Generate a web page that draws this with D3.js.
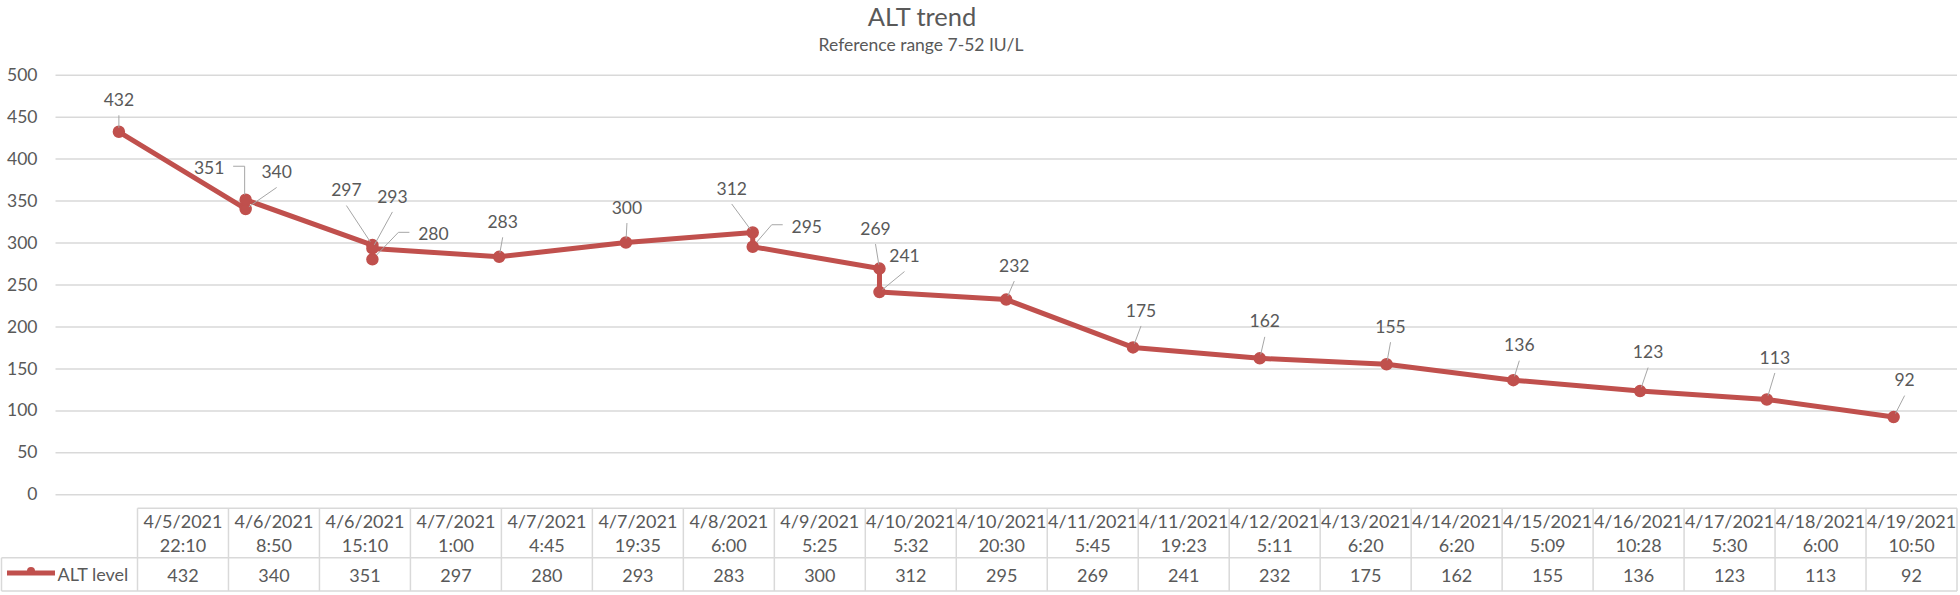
<!DOCTYPE html>
<html>
<head>
<meta charset="utf-8">
<script src="https://cdn.jsdelivr.net/npm/d3@7"></script>
<style>
  html, body { margin: 0; padding: 0; background: #fff; }
  svg { display: block; }
  text { font-family: Lato, "Open Sans", sans-serif; fill: #595959; }
</style>
</head>
<body>
<svg id="chart" width="1960" height="595"></svg>
<script>
// ---------------- data ----------------
const chartTitle = "ALT trend";
const chartSubtitle = "Reference range 7-52 IU/L";
const seriesName = "ALT level";
const categories = [
  "4/5/2021 22:10", "4/6/2021 8:50", "4/6/2021 15:10", "4/7/2021 1:00", "4/7/2021 4:45",
  "4/7/2021 19:35", "4/8/2021 6:00", "4/9/2021 5:25", "4/10/2021 5:32", "4/10/2021 20:30",
  "4/11/2021 5:45", "4/11/2021 19:23", "4/12/2021 5:11", "4/13/2021 6:20", "4/14/2021 6:20",
  "4/15/2021 5:09", "4/16/2021 10:28", "4/17/2021 5:30", "4/18/2021 6:00", "4/19/2021 10:50"
];
const altValues = [432, 340, 351, 297, 280, 293, 283, 300, 312, 295, 269, 241, 232, 175, 162, 155, 136, 123, 113, 92];
const yTicks = [0, 50, 100, 150, 200, 250, 300, 350, 400, 450, 500];

// ---------------- layout (label placement relative to each point) ----------------
const labelOffsets = [
  [0, -32], [31, -37], [-36.5, -32], [-26, -55], [61, -25],
  [20, -52], [3.5, -35], [1, -35], [-21, -44], [54, -20],
  [-4, -40], [25, -36], [8, -34], [8, -37], [5, -37],
  [4, -37.5], [6, -35], [8, -39], [8, -42], [11, -37]
];
const leaderKinds = ["b","b","r","b","l","b","b","b","b","l","b","b","b","b","b","b","b","b","b","b"];

// ---------------- drawing ----------------
const svg = d3.select("#chart");
const red = "#C0504D";
const gridColor = "#D9D9D9";
const textColor = "#595959";

const plot = { left: 55.5, right: 1957, top: 74.7, bottom: 494.3 };

const dayOf = c => c.split(" ")[0];
const days = Array.from(new Set(categories.map(dayOf)));

const x = d3.scaleBand().domain(days).range([plot.left, plot.right]).padding(0);
const y = d3.scaleLinear().domain([0, 500]).range([plot.bottom, plot.top]);

const data = categories.map((c, i) => ({
  cat: c, day: dayOf(c), time: c.split(" ")[1], v: altValues[i], i
}));
data.forEach(d => { d.px = x(d.day) + x.bandwidth() / 2; d.py = y(d.v); });

// gridlines + y tick labels via axis
const yAxis = d3.axisLeft(y).tickValues(yTicks).tickSize(-(plot.right - plot.left)).tickPadding(18);
const gy = svg.append("g").attr("transform", `translate(${plot.left},0)`).call(yAxis);
gy.select(".domain").remove();
gy.selectAll(".tick line").attr("stroke", gridColor).attr("stroke-width", 1.5);
gy.selectAll(".tick text").attr("font-size", 17.5).attr("fill", textColor)
  .style("font-family", "Lato, sans-serif");

// title
svg.append("text").attr("x", 922).attr("y", 25.5).attr("text-anchor", "middle")
  .attr("font-size", 25.5).text(chartTitle);
svg.append("text").attr("x", 921).attr("y", 51).attr("text-anchor", "middle")
  .attr("font-size", 17.5).text(chartSubtitle);

// line
const line = d3.line().x(d => d.px).y(d => d.py);
svg.append("path").datum(data).attr("d", line)
  .attr("fill", "none").attr("stroke", red).attr("stroke-width", 5)
  .attr("stroke-linejoin", "round").attr("stroke-linecap", "round");

// markers
svg.append("g").selectAll("circle").data(data).join("circle")
  .attr("cx", d => d.px).attr("cy", d => d.py).attr("r", 5.5)
  .attr("fill", red).attr("stroke", red).attr("stroke-width", 1.5);

// leader lines + labels
const gl = svg.append("g");
data.forEach((d, i) => {
  const lx = d.px + labelOffsets[i][0];
  const ly = d.py + labelOffsets[i][1];
  const kind = leaderKinds[i];
  let pts;
  if (kind === "b") {
    const sx = lx, sy = ly + 15.5;
    const dx = d.px - sx, dy = d.py - sy;
    const len = Math.hypot(dx, dy);
    const ex = d.px - dx / len * 4, ey = d.py - dy / len * 4;
    pts = [[sx, sy], [ex, ey]];
  } else if (kind === "r") {
    const sx = lx + 24, sy = ly - 1.5;
    pts = [[sx, sy], [d.px - 1, sy], [d.px - 1, d.py - 5]];
  } else {
    const sx = lx - 24, sy = ly - 2;
    const bx = sx - 11;
    const dx = d.px - bx, dy = d.py - sy;
    const len = Math.hypot(dx, dy);
    pts = [[sx, sy], [bx, sy], [d.px - dx / len * 6, d.py - dy / len * 6]];
  }
  gl.append("path").attr("d", d3.line()(pts))
    .attr("fill", "none").attr("stroke", "#A6A6A6").attr("stroke-width", 1);
  gl.append("text").attr("x", lx).attr("y", ly).attr("dy", "0.35em")
    .attr("text-anchor", "middle").attr("font-size", 17.5).text(d.v);
});

// ---------------- data table ----------------
const table = { left: 137.5, right: 1957, top: 508.3, mid: 557.8, bottom: 591 };
const xc = d3.scaleBand().domain(categories).range([table.left, table.right]).padding(0);
const tg = svg.append("g");
const border = "#D9D9D9";

tg.append("line").attr("x1", table.left).attr("x2", table.right)
  .attr("y1", table.top).attr("y2", table.top).attr("stroke", border).attr("stroke-width", 1.5);
tg.append("line").attr("x1", 1.5).attr("x2", table.right)
  .attr("y1", table.mid).attr("y2", table.mid).attr("stroke", border).attr("stroke-width", 1.5);
tg.append("line").attr("x1", 1.5).attr("x2", table.right)
  .attr("y1", table.bottom).attr("y2", table.bottom).attr("stroke", border).attr("stroke-width", 1.5);
tg.append("line").attr("x1", 1.5).attr("x2", 1.5)
  .attr("y1", table.mid).attr("y2", table.bottom).attr("stroke", border).attr("stroke-width", 1.5);
const vEdges = categories.map(c => xc(c)).concat([table.right]);
tg.selectAll("line.v").data(vEdges).join("line").attr("class", "v")
  .attr("x1", d => d).attr("x2", d => d).attr("y1", table.top).attr("y2", table.bottom)
  .attr("stroke", border).attr("stroke-width", 1.5);

const cells = tg.selectAll("g.cell").data(data).join("g").attr("class", "cell")
  .attr("transform", d => `translate(${xc(d.cat) + xc.bandwidth() / 2},0)`);
cells.append("text").attr("y", 521.5).attr("dy", "0.35em").attr("text-anchor", "middle")
  .attr("font-size", 18).text(d => d.day);
cells.append("text").attr("y", 545.5).attr("dy", "0.35em").attr("text-anchor", "middle")
  .attr("font-size", 18).text(d => d.time);
cells.append("text").attr("y", 576).attr("dy", "0.35em").attr("text-anchor", "middle")
  .attr("font-size", 18).text(d => d.v);

// legend key in table
tg.append("line").attr("x1", 7).attr("x2", 55).attr("y1", 573).attr("y2", 573)
  .attr("stroke", red).attr("stroke-width", 5);
tg.append("circle").attr("cx", 31).attr("cy", 571).attr("r", 4).attr("fill", red);
tg.append("text").attr("x", 57.5).attr("y", 575).attr("dy", "0.35em")
  .attr("font-size", 18).text(seriesName);
</script>
</body>
</html>
